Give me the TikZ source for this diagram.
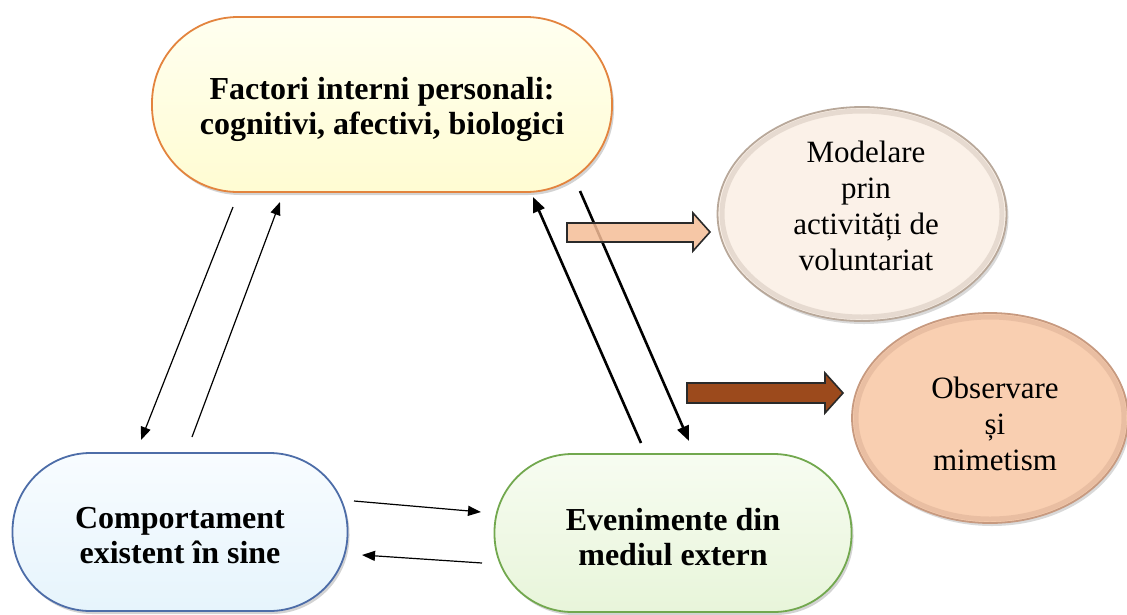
\documentclass[tikz,border=0pt]{standalone}
\usepackage{fontspec}
\setmainfont{Liberation Serif}
\usetikzlibrary{arrows.meta,shapes.geometric,shadows}
\definecolor{ylwfill}{HTML}{FFFCD2}
\definecolor{ylwtop}{HTML}{FFFFF0}
\definecolor{ylwline}{HTML}{E3843E}
\definecolor{bluefill}{HTML}{E6F4FC}
\definecolor{bluetop}{HTML}{F8FCFF}
\definecolor{blueline}{HTML}{4D6DA8}
\definecolor{grnfill}{HTML}{E8F5DA}
\definecolor{grntop}{HTML}{F7FCF1}
\definecolor{grnline}{HTML}{72A84E}
\definecolor{ell1fill}{HTML}{FBF1E8}
\definecolor{ell1line}{HTML}{B8A89A}
\definecolor{ell2fill}{HTML}{F9CFB1}
\definecolor{ell2line}{HTML}{C79A80}
\definecolor{arr1fill}{HTML}{F5BD97}
\definecolor{arr2fill}{HTML}{9C4A1C}
\definecolor{arrline}{HTML}{2A2A2A}
\begin{document}
\begin{tikzpicture}[x=1pt,y=-1pt,
  pillbox/.style={draw, line width=1.8pt, inner sep=0pt,
    drop shadow={opacity=0.35,shadow xshift=2pt,shadow yshift=-3pt}},
  boxtext/.style={align=center, font=\fontsize{32}{35}\selectfont\bfseries},
  ellbox/.style={ellipse, draw, line width=1.8pt, inner sep=0pt,
    drop shadow={opacity=0.3,shadow xshift=2pt,shadow yshift=-3pt}},
  rim/.style={line width=5pt, draw opacity=0.3},
  elltext/.style={align=center, font=\fontsize{31}{36}\selectfont},
  thinarrow/.style={line width=1.2pt, -{Triangle[length=13pt,width=10pt]}},
  thickarrow/.style={line width=2.6pt, -{Triangle[length=15pt,width=12pt]}},
  blockarrow/.style={line width=1.6pt, draw=arrline, line join=miter}
]
\useasboundingbox (0,0) rectangle (1127,614);

% main boxes
\node[pillbox, minimum width=460pt, minimum height=175pt, rounded corners=86pt,
  draw=ylwline, top color=ylwtop, bottom color=ylwfill] (top) at (382,104.5) {};
\node[boxtext] (toptext) at (382,109) {Factori interni personali:\\cognitivi, afectivi, biologici};
\node[pillbox, minimum width=335pt, minimum height=158pt, rounded corners=78pt,
  draw=blueline, top color=bluetop, bottom color=bluefill] (left) at (180,532) {};
\node[boxtext] (lefttext) at (180,536) {Comportament\\existent în sine};
\node[pillbox, minimum width=357pt, minimum height=158pt, rounded corners=78pt,
  draw=grnline, top color=grntop, bottom color=grnfill] (right) at (673,533) {};
\node[boxtext] (righttext) at (673,537) {Evenimente din\\mediul extern};

% ellipses
\node[ellbox, minimum width=289pt, minimum height=214pt, draw=ell1line,
  fill=ell1fill] (ell1) at (862,214) {};
\draw[rim, draw=ell1line] (ell1.center) ellipse [x radius=140pt, y radius=103pt];
\node[elltext] (ell1t) at (866,206) {Modelare\\prin\\activități de\\voluntariat};
\node[ellbox, minimum width=276pt, minimum height=210pt, draw=ell2line,
  fill=ell2fill] (ell2) at (990,418) {};
\draw[rim, draw=ell2line] (ell2.center) ellipse [x radius=134pt, y radius=101pt];
\node[elltext] (ell2t) at (995,424) {Observare\\și\\mimetism};

% connector end points
\coordinate (a1s) at (233,207); \coordinate (a1e) at (141,440);
\coordinate (a2s) at (192,437); \coordinate (a2e) at (280,202);
\coordinate (b1s) at (641,443); \coordinate (b1e) at (533,197);
\coordinate (b2s) at (580,191); \coordinate (b2e) at (689,441);
\coordinate (c1s) at (354,501); \coordinate (c1e) at (481,512);
\coordinate (c2s) at (482,563); \coordinate (c2e) at (362,555);

\draw[thinarrow] (a1s) -- (a1e);
\draw[thinarrow] (a2s) -- (a2e);
\draw[thickarrow] (b1s) -- (b1e);
\draw[thickarrow] (b2s) -- (b2e);
\draw[thinarrow] (c1s) -- (c1e);
\draw[thinarrow] (c2s) -- (c2e);

% block arrows
\path[blockarrow, fill=arr1fill, fill opacity=0.85]
  (567,223) -- (693,223) -- (693,213) -- (710,232) -- (693,251) -- (693,242) -- (567,242) -- cycle;
\path[blockarrow, fill=arr2fill]
  (687,383) -- (825,383) -- (825,373) -- (843,393) -- (825,413) -- (825,403) -- (687,403) -- cycle;
\end{tikzpicture}
\end{document}
